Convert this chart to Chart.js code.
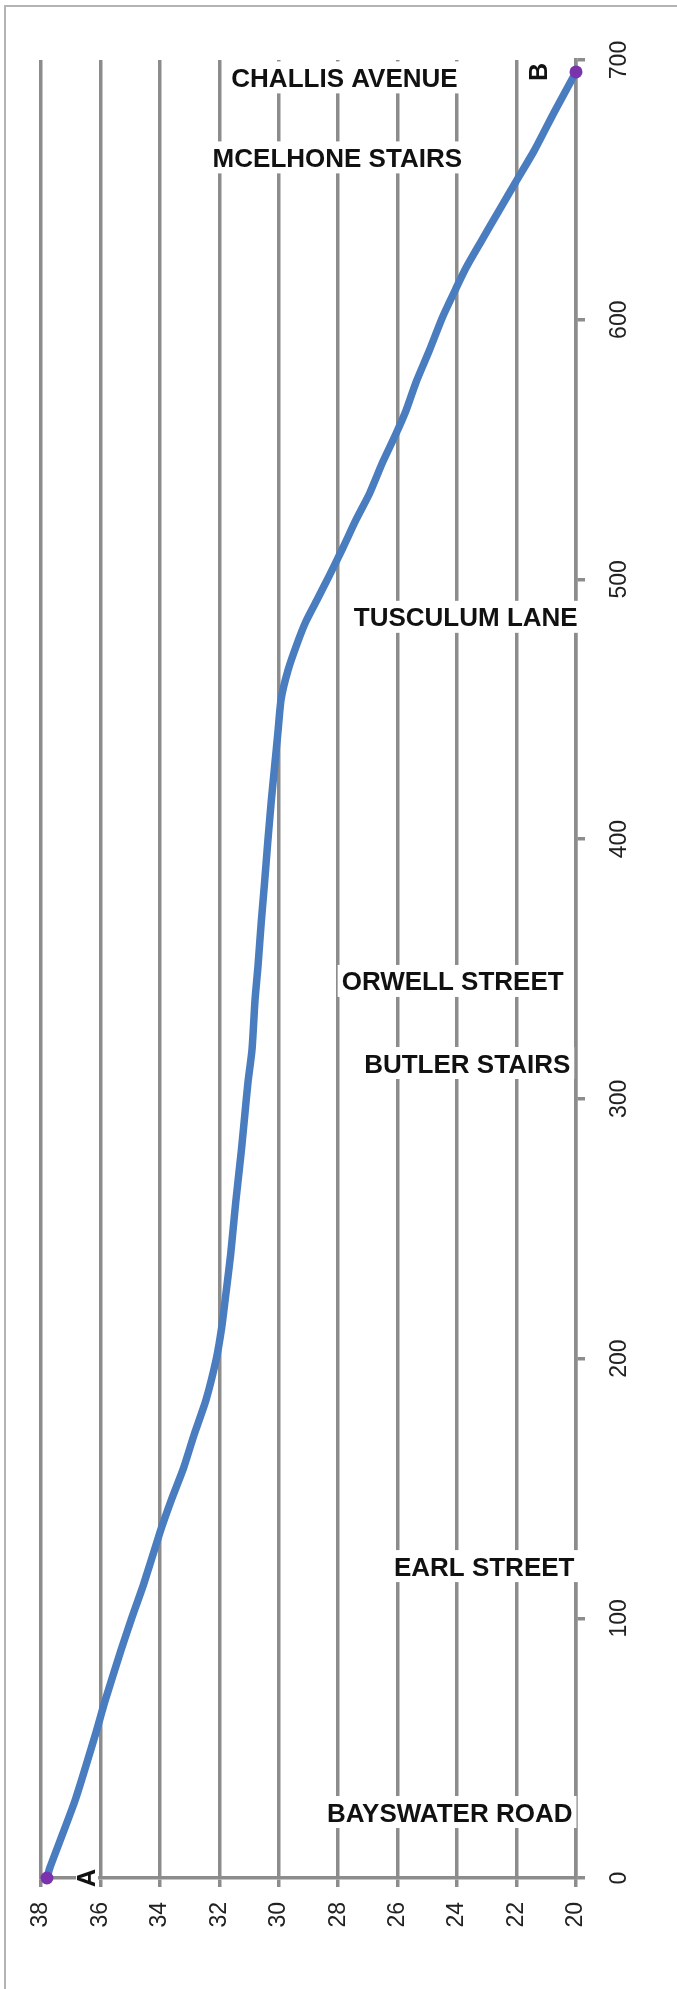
<!DOCTYPE html>
<html>
<head>
<meta charset="utf-8">
<script src="https://cdn.jsdelivr.net/npm/chart.js@4.4.0/dist/chart.umd.min.js"></script>
<style>
  html, body { margin: 0; padding: 0; background: #ffffff; }
  canvas { display: block; }
</style>
</head>
<body>
<canvas id="profile" width="677" height="1989"></canvas>
<script>
// distance along the walk (m) and elevation (m)
const distance = [0, 4, 30, 56, 68, 88, 100, 113, 133, 146, 158, 171, 184, 200, 212, 223, 240, 260, 280, 293,
  306, 319, 338, 351, 368, 383, 399, 415, 428, 441, 454, 465, 476, 484, 492, 501, 512, 523, 533, 545,
  556, 565, 576, 588, 601, 612, 620, 630, 642, 653, 665, 680, 695.4];
const elevation = [37.8, 37.7, 36.85, 36.15, 35.85, 35.3, 34.95, 34.55, 34.0, 33.6, 33.2, 32.84, 32.45, 32.1, 31.92, 31.8, 31.62, 31.45, 31.26, 31.15,
  31.04, 30.9, 30.8, 30.70, 30.59, 30.48, 30.37, 30.25, 30.14, 30.03, 29.92, 29.69, 29.36, 29.08, 28.72, 28.32, 27.85, 27.40, 26.95, 26.51,
  26.06, 25.72, 25.38, 24.94, 24.49, 24.04, 23.70, 23.2, 22.59, 22.03, 21.41, 20.73, 20.0];

const elevationTicks = [38, 36, 34, 32, 30, 28, 26, 24, 22, 20];
const distanceTicks = [0, 100, 200, 300, 400, 500, 600, 700];

const landmarkNames = ['CHALLIS AVENUE', 'MCELHONE STAIRS', 'TUSCULUM LANE', 'ORWELL STREET', 'BUTLER STAIRS', 'EARL STREET', 'BAYSWATER ROAD'];
const landmarkDistance = [693.3, 662.5, 485.6, 345.4, 313.8, 120.1, 25.4];
const landmarkElevation = [27.79, 28.03, 23.71, 24.15, 23.66, 23.09, 24.25];

const endNames = ['A', 'B'];
const endLabelElevation = [36.45, 21.25];

const GRID = '#8c8c8c';
const LINE = '#4a7dbf';
const DOT = '#7a33ad';

const overlay = {
  id: 'overlay',
  beforeDraw(chart) {
    const ctx = chart.ctx;
    ctx.save();
    ctx.fillStyle = '#ffffff';
    ctx.fillRect(0, 0, chart.width, chart.height);
    ctx.strokeStyle = '#b4b4b4';
    ctx.lineWidth = 2;
    ctx.beginPath();
    ctx.moveTo(5, chart.height);
    ctx.lineTo(5, 6);
    ctx.lineTo(chart.width, 6);
    ctx.stroke();
    ctx.restore();
  },
  afterDraw(chart) {
    const ctx = chart.ctx;
    const { x, y } = chart.scales;

    // distance tick labels, turned like the rest of the page
    ctx.save();
    ctx.font = '23px "Liberation Sans", Arial, sans-serif';
    ctx.fillStyle = '#222222';
    ctx.textAlign = 'center';
    ctx.textBaseline = 'middle';
    distanceTicks.forEach(v => {
      ctx.save();
      ctx.translate(y.left + 44, y.getPixelForValue(v));
      ctx.rotate(-Math.PI / 2);
      ctx.fillText(String(v), 0, 0);
      ctx.restore();
    });
    ctx.restore();

    // street names with a white box behind them
    ctx.save();
    ctx.font = 'bold 26px "Liberation Sans", Arial, sans-serif';
    ctx.textAlign = 'center';
    ctx.textBaseline = 'alphabetic';
    landmarkNames.forEach((name, i) => {
      const cx = x.getPixelForValue(landmarkElevation[i]);
      const cy = y.getPixelForValue(landmarkDistance[i]);
      const w = ctx.measureText(name).width;
      ctx.fillStyle = '#ffffff';
      ctx.fillRect(cx - w / 2 - 4, cy - 16, w + 8, 32);
      ctx.fillStyle = '#111111';
      ctx.fillText(name, cx, cy + 9.5);
    });
    ctx.restore();

    // start / end letters
    const ends = [0, distance.length - 1];
    ctx.save();
    ctx.font = 'bold 25px "Liberation Sans", Arial, sans-serif';
    ctx.textAlign = 'center';
    ctx.textBaseline = 'middle';
    ends.forEach((idx, i) => {
      const cx = x.getPixelForValue(endLabelElevation[i]);
      const cy = y.getPixelForValue(distance[idx]);
      ctx.save();
      ctx.translate(cx, cy);
      ctx.rotate(-Math.PI / 2);
      ctx.fillStyle = '#ffffff';
      ctx.fillRect(-10, -11, 20, 22);
      ctx.fillStyle = '#111111';
      ctx.fillText(endNames[i], 0, 1);
      ctx.restore();
    });
    ctx.restore();
  }
};

const points = distance.map((d, i) => ({ x: elevation[i], y: d }));
const endPoints = [points[0], points[points.length - 1]];

new Chart(document.getElementById('profile'), {
  type: 'scatter',
  data: {
    datasets: [
      {
        label: 'ends',
        data: endPoints,
        showLine: false,
        pointRadius: 6.5,
        pointBackgroundColor: DOT,
        pointBorderColor: DOT,
        pointBorderWidth: 0,
        clip: false,
        order: 0
      },
      {
        label: 'profile',
        data: points,
        showLine: true,
        borderColor: LINE,
        borderWidth: 7.5,
        pointRadius: 0,
        tension: 0.2,
        borderCapStyle: 'round',
        borderJoinStyle: 'round',
        clip: false,
        order: 1
      }
    ]
  },
  options: {
    responsive: false,
    animation: false,
    layout: { padding: { left: 41, top: 60, right: 0, bottom: 0 } },
    plugins: {
      legend: { display: false },
      tooltip: { enabled: false }
    },
    scales: {
      x: {
        type: 'linear',
        position: 'bottom',
        reverse: true,
        min: 20,
        max: 38,
        afterBuildTicks: s => { s.ticks = elevationTicks.map(v => ({ value: v })); },
        afterFit: s => { s.height = 111; },
        grid: { color: GRID, lineWidth: 3.5, tickLength: 9, tickColor: GRID, tickWidth: 3.5 },
        border: { display: true, color: GRID, width: 3.5 },
        ticks: {
          minRotation: 90,
          maxRotation: 90,
          padding: 15,
          color: '#222222',
          font: { family: '"Liberation Sans", Arial, sans-serif', size: 23 }
        }
      },
      y: {
        type: 'linear',
        position: 'right',
        min: 0,
        max: 700,
        afterBuildTicks: s => { s.ticks = distanceTicks.map(v => ({ value: v })); },
        afterFit: s => { s.width = 101; },
        grid: { drawOnChartArea: false, tickLength: 9, color: GRID, lineWidth: 3.5 },
        border: { display: true, color: GRID, width: 3.5 },
        ticks: { display: false }
      }
    }
  },
  plugins: [overlay]
});
</script>
</body>
</html>
